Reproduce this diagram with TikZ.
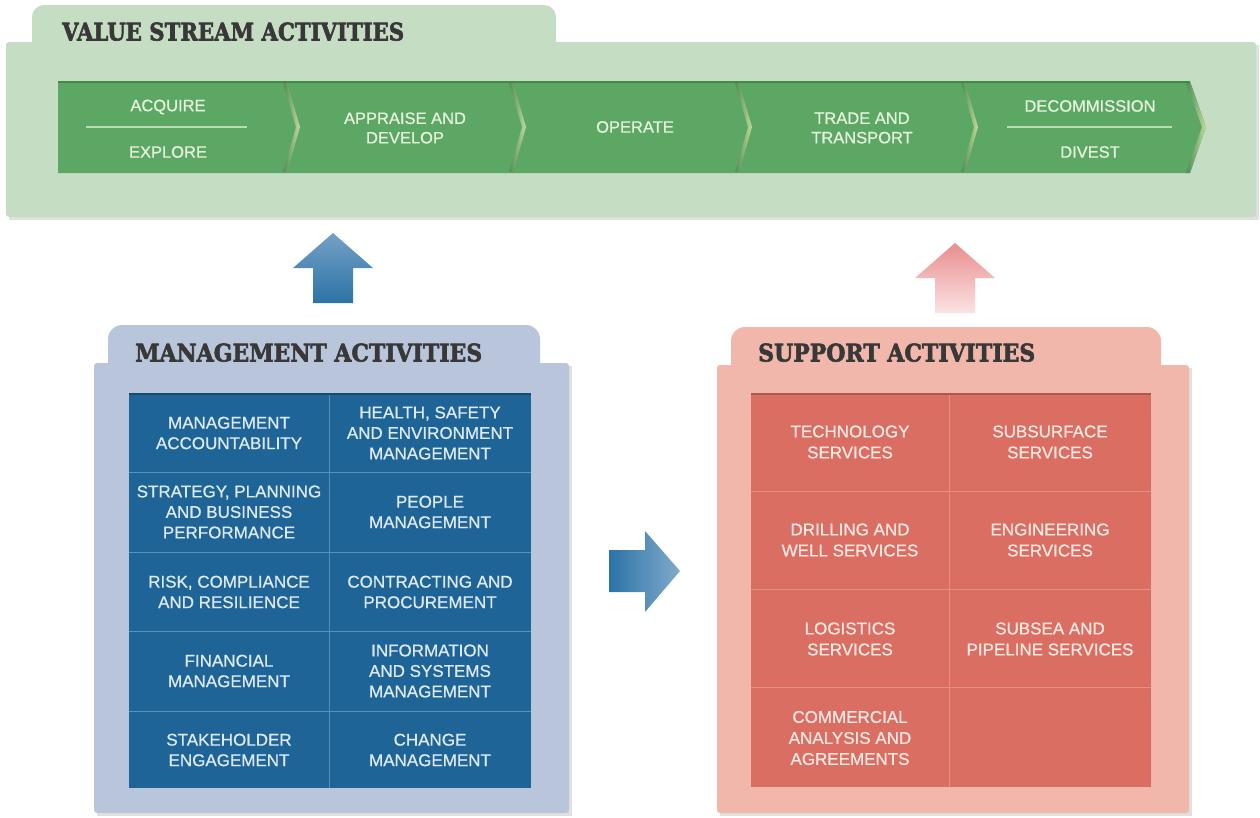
\documentclass[tikz,border=0pt]{standalone}
\usepackage{fontspec}
\setmainfont{Liberation Sans}
\newfontfamily\cellfont{Liberation Sans}[FakeBold=0.7]
\newfontfamily\headfont{DejaVu Serif}[BoldFeatures={FakeBold=2.5}]
\usepackage{graphicx}
\usetikzlibrary{shadings}
\definecolor{panelGreen}{HTML}{C5DDC3}
\definecolor{stripGreen}{HTML}{5DA765}
\definecolor{stripTop}{HTML}{3F8B48}
\definecolor{stripText}{HTML}{E6F2DE}
\definecolor{chevLight}{HTML}{C3DA9E}
\definecolor{sepLine}{HTML}{B9DDB2}
\definecolor{panelBlue}{HTML}{B8C5DA}
\definecolor{gridBlue}{HTML}{1F6496}
\definecolor{gridLineB}{HTML}{5A90B8}
\definecolor{blueText}{HTML}{DDEAF4}
\definecolor{panelPink}{HTML}{F0B7AA}
\definecolor{gridPink}{HTML}{DB6E63}
\definecolor{gridLineP}{HTML}{E8907F}
\definecolor{pinkText}{HTML}{FDE9E3}
\definecolor{headText}{HTML}{383838}
\definecolor{arrBlueTop}{HTML}{74A1C6}
\definecolor{arrBlueBot}{HTML}{2B73A6}
\definecolor{arrPinkTop}{HTML}{E98D8E}
\definecolor{arrPinkBot}{HTML}{FBE3E3}
\begin{document}
\begin{tikzpicture}[x=1pt,y=-1pt,
  cellB/.style={align=center, font=\cellfont\fontsize{17}{20.5}\selectfont, text=blueText, inner sep=0pt},
  cellP/.style={align=center, font=\cellfont\fontsize{17}{21}\selectfont, text=pinkText, inner sep=0pt},
  stage/.style={align=center, font=\cellfont\fontsize{16.5}{19.5}\selectfont, text=stripText, inner sep=0pt},
  heading/.style={anchor=south west, inner sep=0pt, text=headText},
  dropshadow/.style={fill=black, opacity=0.12}]
\useasboundingbox (0,0) rectangle (1260,817);

% ---------- value stream panel ----------
\fill[dropshadow] (9,45) rectangle (1259,220);
\fill[panelGreen, rounded corners=12] (32,5) rectangle (556,60);
\fill[panelGreen, rounded corners=3] (6,42) rectangle (1256,217);
\node[heading] (vsh) at (62,41) {\resizebox{342pt}{18pt}{\headfont\bfseries VALUE STREAM ACTIVITIES}};

\fill[stripGreen] (58,81) -- (1190,81) -- (1206,127) -- (1190,173) -- (58,173) -- cycle;
\draw[stripTop, line width=2] (58,82) -- (1190,82);
\foreach \x in {287,513,739,965}{
  \shade[left color=stripGreen!85!black, right color=chevLight]
    (\x-4,83) -- (\x,83) -- (\x+13,127) -- (\x,172) -- (\x-4,172) -- (\x+9,127) -- cycle;
}
\shade[left color=stripGreen!85!black, right color=chevLight]
    (1186,83) -- (1190,83) -- (1206,127) -- (1190,173) -- (1186,173) -- (1202,127) -- cycle;
\draw[sepLine, line width=1.8] (86,127) -- (247,127);
\draw[sepLine, line width=1.8] (1007,127) -- (1172,127);

\node[stage] (acq) at (168,107) {ACQUIRE};
\node[stage] (exp) at (168,152) {EXPLORE};
\node[stage] (app) at (405,128) {APPRAISE AND\\DEVELOP};
\node[stage] (ope) at (635,127) {OPERATE};
\node[stage] (tra) at (862,128) {TRADE AND\\TRANSPORT};
\node[stage] (dec) at (1090,106) {DECOMMISSION};
\node[stage] (dvt) at (1090,152) {DIVEST};

% ---------- arrows ----------
\shade[top color=arrBlueTop, bottom color=arrBlueBot]
  (313,303) -- (313,268) -- (293,268) -- (333,233) -- (373,268) -- (353,268) -- (353,303) -- cycle;
\shade[top color=arrPinkTop, bottom color=arrPinkBot]
  (935,313) -- (935,278) -- (915,278) -- (955,243) -- (995,278) -- (975,278) -- (975,313) -- cycle;
\shade[left color=arrBlueBot, right color=arrBlueTop!90!white]
  (609,550) -- (645,550) -- (645,531) -- (680,571) -- (645,612) -- (645,592) -- (609,592) -- cycle;

% ---------- management panel ----------
\fill[dropshadow] (97,366) rectangle (572,816);
\fill[panelBlue, rounded corners=14] (108,325) rectangle (540,380);
\fill[panelBlue, rounded corners=3] (94,363) rectangle (569,813);
\node[heading] (mh) at (135,362) {\resizebox{347pt}{18pt}{\headfont\bfseries MANAGEMENT ACTIVITIES}};
\fill[gridBlue] (129,393) rectangle (531,788);
\draw[gridBlue!75!black, line width=1.5] (129,394) -- (531,394);
\draw[gridLineB, line width=0.8] (329,395) -- (329,788);
\foreach \y in {472,552,631,711}{\draw[gridLineB, line width=0.8] (129,\y) -- (531,\y);}

\node[cellB] (m11) at (229,433) {MANAGEMENT\\ACCOUNTABILITY};
\node[cellB] (m12) at (430,433) {HEALTH, SAFETY\\AND ENVIRONMENT\\MANAGEMENT};
\node[cellB] (m21) at (229,512) {STRATEGY, PLANNING\\AND BUSINESS\\PERFORMANCE};
\node[cellB] (m22) at (430,512) {PEOPLE\\MANAGEMENT};
\node[cellB] (m31) at (229,592) {RISK, COMPLIANCE\\AND RESILIENCE};
\node[cellB] (m32) at (430,592) {CONTRACTING AND\\PROCUREMENT};
\node[cellB] (m41) at (229,671) {FINANCIAL\\MANAGEMENT};
\node[cellB] (m42) at (430,671) {INFORMATION\\AND SYSTEMS\\MANAGEMENT};
\node[cellB] (m51) at (229,750) {STAKEHOLDER\\ENGAGEMENT};
\node[cellB] (m52) at (430,750) {CHANGE\\MANAGEMENT};

% ---------- support panel ----------
\fill[dropshadow] (720,368) rectangle (1192,816);
\fill[panelPink, rounded corners=14] (731,327) rectangle (1161,380);
\fill[panelPink, rounded corners=3] (717,365) rectangle (1189,813);
\node[heading] (sh) at (758,362) {\resizebox{277pt}{18pt}{\headfont\bfseries SUPPORT ACTIVITIES}};
\fill[gridPink] (751,393) rectangle (1151,787);
\draw[gridPink!80!black, line width=1.5] (751,394) -- (1151,394);
\draw[gridLineP, line width=0.7] (949,395) -- (949,787);
\foreach \y in {491,589,687}{\draw[gridLineP, line width=0.7] (751,\y) -- (1151,\y);}

\node[cellP] (s11) at (850,442) {TECHNOLOGY\\SERVICES};
\node[cellP] (s12) at (1050,442) {SUBSURFACE\\SERVICES};
\node[cellP] (s21) at (850,540) {DRILLING AND\\WELL SERVICES};
\node[cellP] (s22) at (1050,540) {ENGINEERING\\SERVICES};
\node[cellP] (s31) at (850,639) {LOGISTICS\\SERVICES};
\node[cellP] (s32) at (1050,639) {SUBSEA AND\\PIPELINE SERVICES};
\node[cellP] (s41) at (850,738) {COMMERCIAL\\ANALYSIS AND\\AGREEMENTS};
\end{tikzpicture}
\end{document}
